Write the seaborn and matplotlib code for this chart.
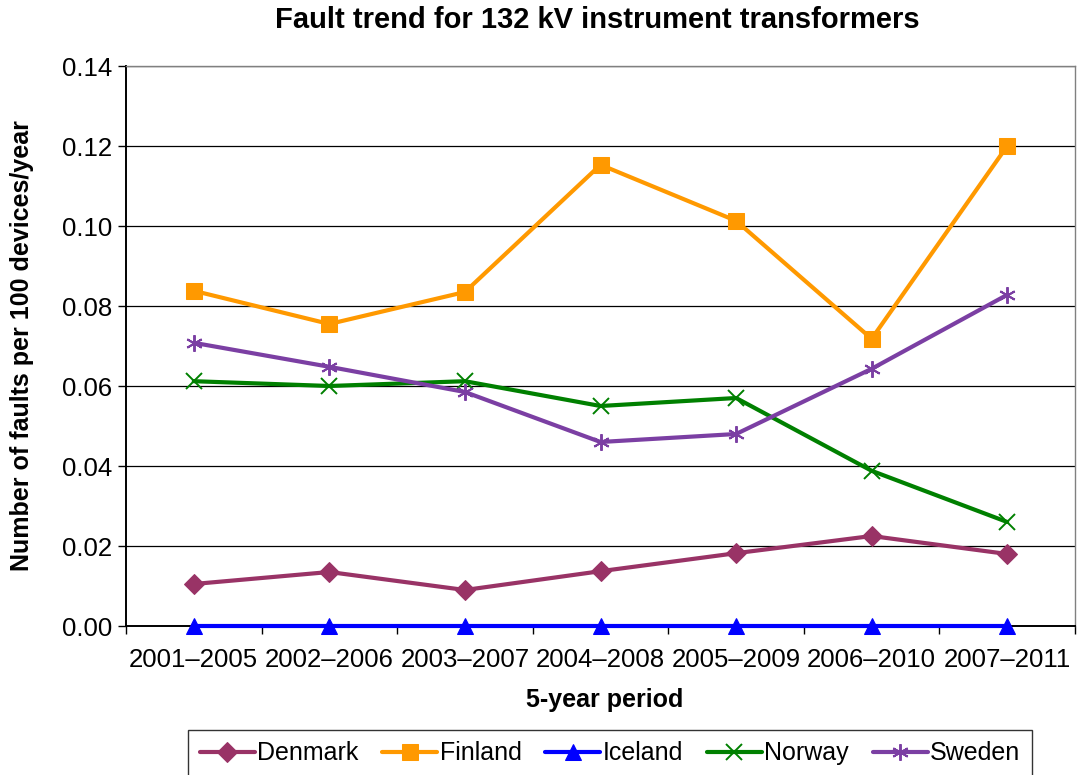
import matplotlib
matplotlib.use("Agg")
import matplotlib.pyplot as plt
import seaborn as sns
import pandas as pd
import numpy as np

periods = ["2001\u20132005", "2002\u20132006", "2003\u20132007", "2004\u20132008",
           "2005\u20132009", "2006\u20132010", "2007\u20132011"]
denmark = [0.0105, 0.0135, 0.0090, 0.0137, 0.0182, 0.0225, 0.0180]
finland = [0.0838, 0.0755, 0.0835, 0.1153, 0.1013, 0.0718, 0.1200]
iceland = [0.0, 0.0, 0.0, 0.0, 0.0, 0.0, 0.0]
norway = [0.0612, 0.0600, 0.0612, 0.0550, 0.0570, 0.0388, 0.0260]
sweden = [0.0708, 0.0648, 0.0585, 0.0460, 0.0480, 0.0643, 0.0828]

series = {"Denmark": denmark, "Finland": finland, "Iceland": iceland,
          "Norway": norway, "Sweden": sweden}
colors = {"Denmark": "#993366", "Finland": "#FF9900", "Iceland": "#0000FF",
          "Norway": "#008000", "Sweden": "#7B3FA3"}
markers = {"Denmark": "D", "Finland": "s", "Iceland": "^",
           "Norway": "x", "Sweden": (6, 2, 0)}
msizes = {"Denmark": 10, "Finland": 11, "Iceland": 11, "Norway": 11, "Sweden": 12}

rows = []
for name, vals in series.items():
    for p, v in zip(periods, vals):
        rows.append({"period": p, "value": v, "country": name})
df = pd.DataFrame(rows)

sns.set_style("white")
plt.rcParams["font.family"] = ["Liberation Sans", "DejaVu Sans"]
plt.rcParams["text.color"] = "black"
plt.rcParams["axes.labelcolor"] = "black"
plt.rcParams["xtick.color"] = "black"
plt.rcParams["ytick.color"] = "black"

fig = plt.figure(figsize=(10.77, 7.75), dpi=100)
ax = fig.add_axes([126/1077, 1-626/775, (1075-126)/1077, (626-66)/775])

for name in series:
    sub = df[df["country"] == name]
    mk = markers[name]
    kw = dict(marker=mk, markersize=msizes[name], color=colors[name],
              markeredgecolor=colors[name], linewidth=3.0)
    if name in ("Norway", "Sweden"):
        kw["markeredgewidth"] = 1.4
    sns.lineplot(data=sub, x="period", y="value", ax=ax, label=name,
                 sort=False, estimator=None, **kw)

for line in ax.get_lines():
    line.set_clip_on(False)
    line.set_zorder(5)

ax.set_xlim(-0.5, 6.5)
ax.set_ylim(0, 0.14)
ax.set_yticks(np.arange(0, 0.141, 0.02))
ax.set_yticklabels([f"{v:.2f}" for v in np.arange(0, 0.141, 0.02)])
ax.yaxis.grid(True, color="black", linewidth=0.9)
ax.xaxis.grid(False)
ax.set_axisbelow(True)

ax.set_xticks(range(len(periods)))
ax.set_xticklabels(periods)
ax.set_xticks(np.arange(-0.5, 7, 1), minor=True)
ax.tick_params(axis="x", which="major", length=0, pad=16, labelsize=18.5, labelcolor="black")
ax.tick_params(axis="x", which="minor", length=6, width=1, direction="out", color="black", bottom=True)
ax.tick_params(axis="y", length=6, width=1, direction="out", color="black", left=True,
               labelsize=18.5, pad=4, labelcolor="black")

for s in ["left", "bottom"]:
    ax.spines[s].set_color("black")
    ax.spines[s].set_linewidth(1.4)
for s in ["right", "top"]:
    ax.spines[s].set_color("#808080")
    ax.spines[s].set_linewidth(1.0)

ax.set_xlabel("5-year period", fontsize=18, fontweight="bold", color="black")
ax.set_ylabel("Number of faults per 100 devices/year", fontsize=18, fontweight="bold", color="black")
ax.xaxis.set_label_coords((605-126)/949, (626-700)/560)
ax.yaxis.set_label_coords((22-126)/949, (626-346)/560)
ax.xaxis.label.set_va("center")
ax.yaxis.label.set_va("center")
fig.suptitle("Fault trend for 132 kV instrument transformers", fontsize=21,
             fontweight="bold", x=597/1077, y=1-20/775, va="center", color="black")

leg = ax.legend(loc="upper center", bbox_to_anchor=(610/1077, 1-730/775),
                bbox_transform=fig.transFigure, ncol=5, fontsize=18, frameon=True,
                fancybox=False, edgecolor="black", handlelength=2.2, handletextpad=0.1,
                columnspacing=0.95, borderpad=0.45, borderaxespad=0)
leg.get_frame().set_linewidth(1.0)
for t in leg.get_texts():
    t.set_color("black")

fig.savefig("out.png", dpi=100)
